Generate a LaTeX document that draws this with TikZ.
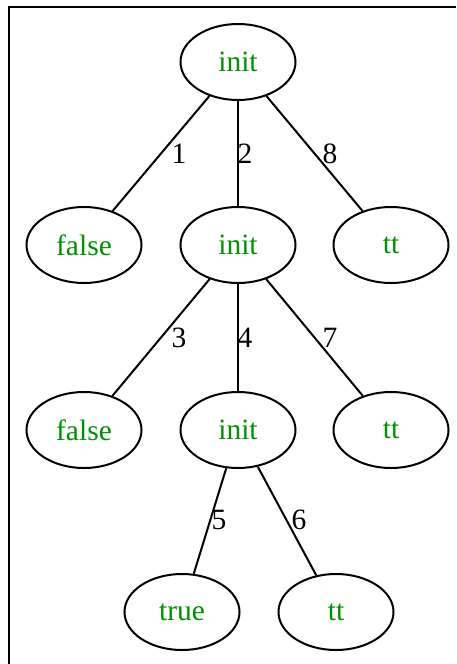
\documentclass[tikz,border=0pt]{standalone}
\usepackage{fontspec}
\setmainfont{Liberation Serif}
\usetikzlibrary{shapes.geometric}
\definecolor{gvgreen}{RGB}{0,145,0}
\begin{document}
\begin{tikzpicture}[x=1pt,y=-1pt,
  st/.style={draw, ellipse, line width=2pt, minimum width=115pt, minimum height=76pt, inner sep=0pt,
    font=\fontsize{29.5}{32}\selectfont, text=gvgreen},
  lbl/.style={font=\fontsize{29.5}{32}\selectfont, inner sep=0pt},
  edge/.style={line width=2pt}]
\useasboundingbox (0,0) rectangle (456,664);
\draw[line width=2pt] (9,664) -- (9,7) -- (456,7);
\node[st] (a) at (238,62) {init};
\node[st] (b1) at (84,245) {false};
\node[st] (b2) at (238,245) {init};
\node[st] (b3) at (391,245) {tt};
\node[st] (c1) at (84,430) {false};
\node[st] (c2) at (238,430) {init};
\node[st] (c3) at (391,430) {tt};
\node[st] (d1) at (182,612) {true};
\node[st] (d2) at (336,612) {tt};
\draw[edge] (a) -- (b1);
\draw[edge] (a) -- (b2);
\draw[edge] (a) -- (b3);
\draw[edge] (b2) -- (c1);
\draw[edge] (b2) -- (c2);
\draw[edge] (b2) -- (c3);
\draw[edge] (c2) -- (d1);
\draw[edge] (c2) -- (d2);
\node[lbl] (l1) at (179,154) {1};
\node[lbl] (l2) at (245,154) {2};
\node[lbl] (l8) at (330,154) {8};
\node[lbl] (l3) at (179,338) {3};
\node[lbl] (l4) at (245,338) {4};
\node[lbl] (l7) at (330,338) {7};
\node[lbl] (l5) at (219,520) {5};
\node[lbl] (l6) at (299,520) {6};
\end{tikzpicture}
\end{document}
